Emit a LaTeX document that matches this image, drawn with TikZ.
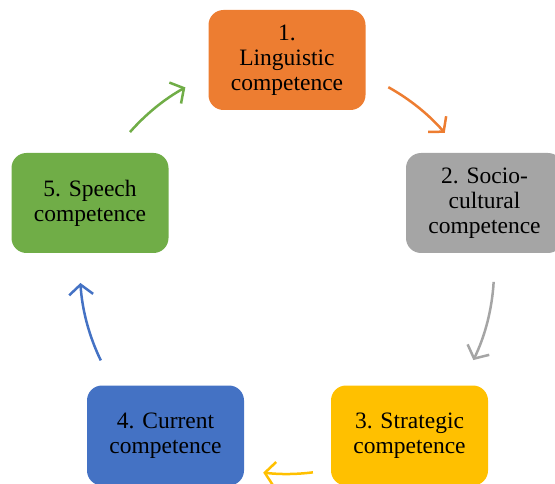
\documentclass[tikz,border=0pt]{standalone}
\usepackage{fontspec}
\setmainfont{Liberation Serif}
\usetikzlibrary{arrows.meta}
\definecolor{cOrange}{HTML}{ED7D31}
\definecolor{cGray}{HTML}{A5A5A5}
\definecolor{cYellow}{HTML}{FFC000}
\definecolor{cBlue}{HTML}{4472C4}
\definecolor{cGreen}{HTML}{70AD47}
\begin{document}
\begin{tikzpicture}[x=1pt,y=1pt,
  box/.style={rounded corners=15pt, minimum width=157pt, minimum height=100pt,
    inner sep=0pt, align=center, text=black,
    font=\fontsize{23.5}{25}\selectfont},
  arr/.style={line width=2.5pt, -{Straight Barb[length=10pt,width=24pt,line width=2.5pt]}}]
\useasboundingbox (0,0) rectangle (555,-484);
\begin{scope}
\clip (0,0) rectangle (555,-484);
\node[box, fill=cOrange] (b1) at (287,-60) {1.\\Linguistic\\competence};
\node[box, fill=cGray] (b2) at (484.5,-203) {2. Socio-\\cultural\\competence};
\node[box, fill=cYellow] (b3) at (409.5,-435.5) {3. Strategic\\competence};
\node[box, fill=cBlue] (b4) at (165.5,-435.5) {4. Current\\competence};
\node[box, fill=cGreen] (b5) at (90,-203) {5. Speech\\competence};
\end{scope}
\coordinate (c) at (287,-270);
\draw[arr, cOrange] ([shift={(61:209)}]c) arc[start angle=61, end angle=41, radius=209];
\draw[arr, cGray] ([shift={(-3.3:207)}]c) arc[start angle=-3.3, end angle=-25.8, radius=207];
\draw[arr, cYellow] ([shift={(-82.7:204)}]c) arc[start angle=-82.7, end angle=-96.7, radius=204];
\draw[arr, cBlue] ([shift={(205.9:207)}]c) arc[start angle=205.9, end angle=183.6, radius=207];
\draw[arr, cGreen] ([shift={(138.7:209)}]c) arc[start angle=138.7, end angle=119.1, radius=209];
\end{tikzpicture}
\end{document}
